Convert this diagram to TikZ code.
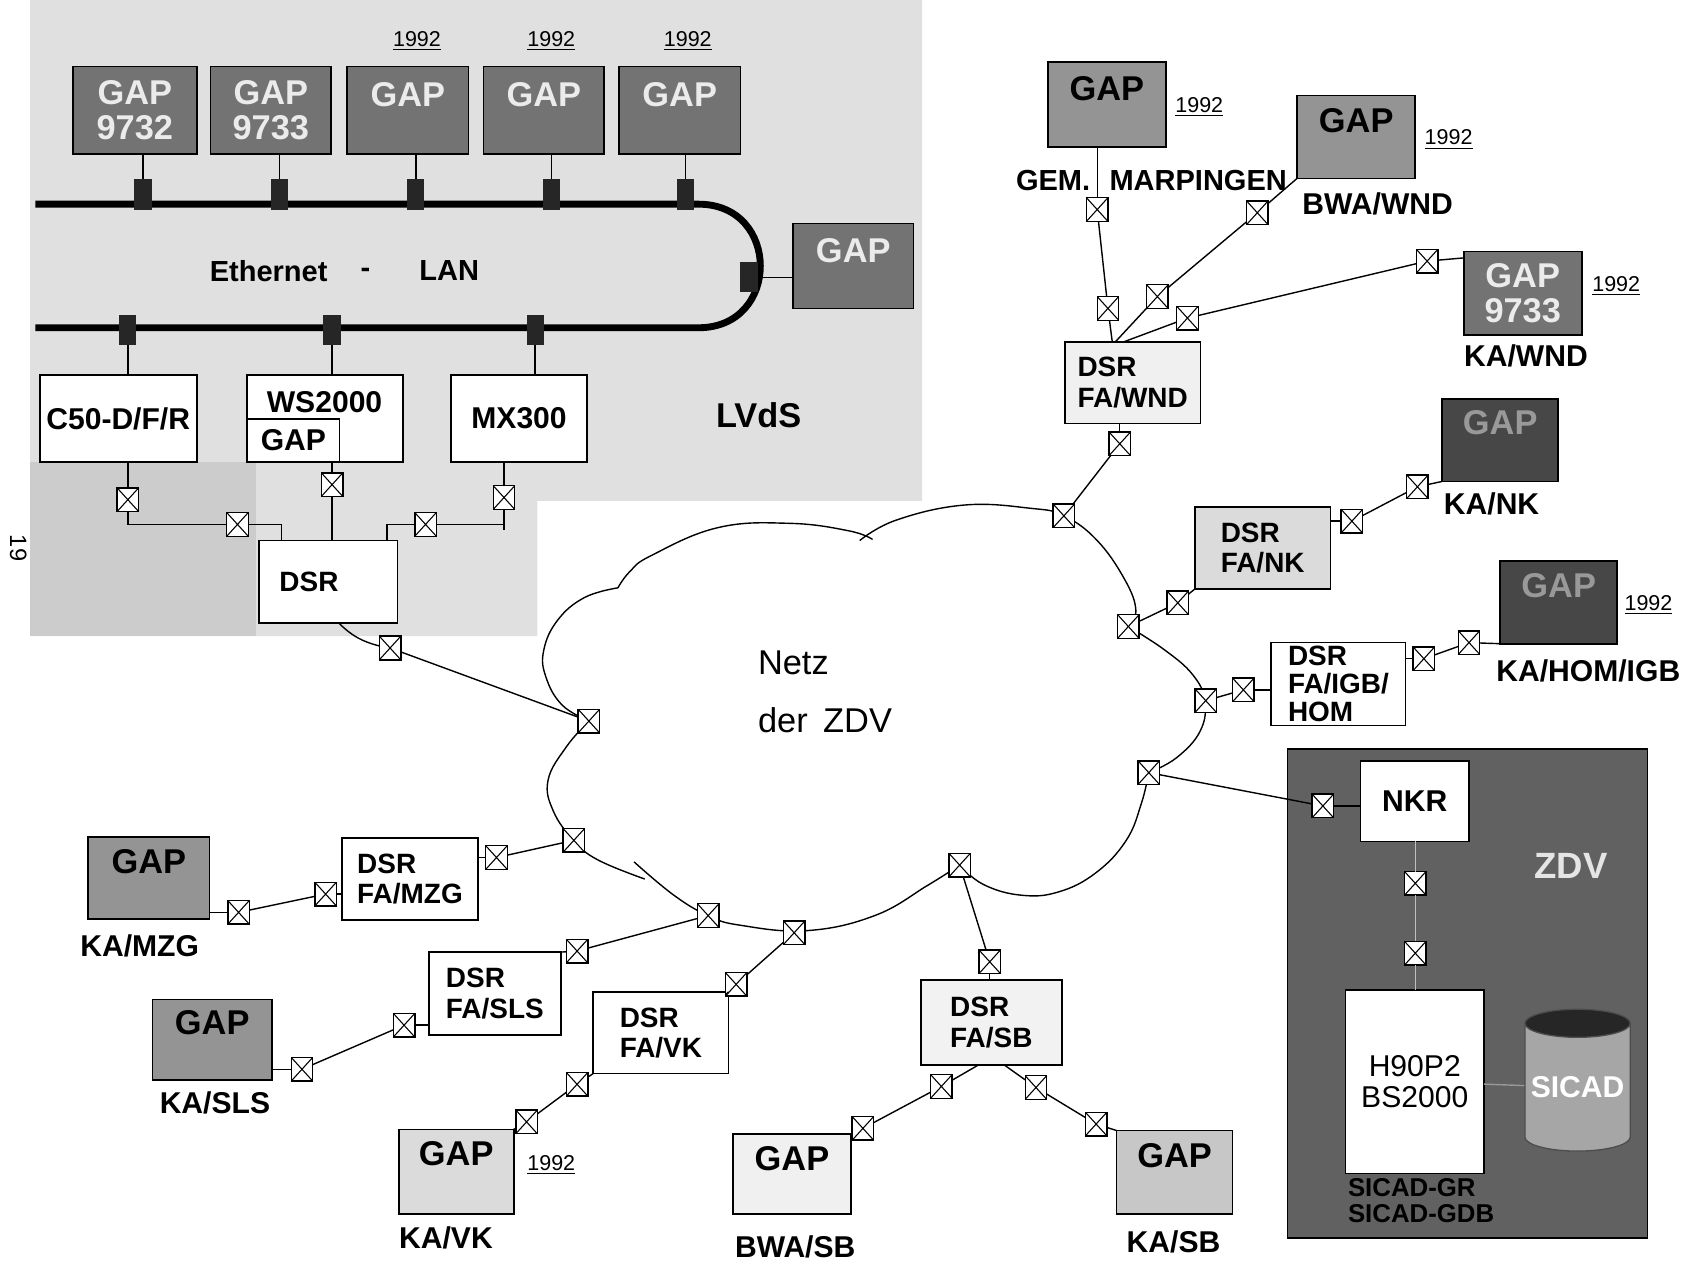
\documentclass[tikz,border=0pt]{standalone}
\usepackage{fontspec}
\setmainfont{Liberation Sans}
\usetikzlibrary{shapes.geometric,calc}
\newcommand\bx[7]{\pgfmathsetmacro\bxw{(#4-#2)/2}\pgfmathsetmacro\bxh{(#5-#3)/2}%
  \node[#6,minimum width=\bxw pt,minimum height=\bxh pt] (#1) at ({(#2+#4)/2},{(#3+#5)/2}) {#7};}
\newcommand\xb[3]{\node[xbox] (#1) at (#2,#3) {};}
\begin{document}
\begin{tikzpicture}[x=0.5pt,y=-0.5pt,
 conn/.style={line width=0.65pt},
 lightconn/.style={line width=0.65pt,draw=black!25},
 xbox/.style={draw,fill=white,line width=0.65pt,minimum width=10pt,minimum height=11pt,inner sep=0pt,outer sep=0pt,
   path picture={\draw[line width=0.5pt] (path picture bounding box.north west) -- (path picture bounding box.south east)
     (path picture bounding box.north east) -- (path picture bounding box.south west);}},
 trx/.style={fill=black!85,minimum width=8pt,minimum height=14pt,inner sep=0pt},
 box/.style={draw,line width=0.8pt,inner sep=0pt,outer sep=0pt,align=left},
 wbox/.style={box,fill=white,font=\fontsize{13}{14}\selectfont\bfseries},
 gap/.style={box,align=center,font=\fontsize{16}{16.5}\selectfont\bfseries},
 gapdark/.style={gap,fill=black!55,text=black!8},
 gapmid/.style={gap,fill=black!42,text=black},
 gapvdark/.style={gap,fill=black!72,text=black!40},
 gaplight/.style={gap,fill=black!14,text=black},
 txtup/.style={text depth=#1},
 lab/.style={font=\fontsize{14}{14}\selectfont\bfseries,inner sep=0pt},
 yr/.style={font=\fontsize{10}{10}\selectfont,inner sep=0pt},
]
\useasboundingbox (0,0) rectangle (1568,1176);
% ---------- LVdS background ----------
\fill[black!12] (28,0) -- (858,0) -- (858,466) -- (500,466) -- (500,592) -- (28,592) -- cycle;
\fill[black!20] (28,430) rectangle (238,592);
% Ethernet bus
\draw[line width=3.2pt] (33,190) -- (650,190) .. controls (726.7,190) and (726.7,305) .. (650,305) -- (33,305);
% top GAPs
\bx{g1}{68}{62}{183}{143}{gapdark}{GAP\\9732}
\bx{g2}{196}{62}{308}{143}{gapdark}{GAP\\9733}
\bx{g3}{323}{62}{436}{143}{gapdark,txtup=15pt}{GAP}
\bx{g4}{450}{62}{562}{143}{gapdark,txtup=15pt}{GAP}
\bx{g5}{576}{62}{689}{143}{gapdark,txtup=15pt}{GAP}
\node[yr] (y3) at (388,38) {\underline{1992}};
\node[yr] (y4) at (513,38) {\underline{1992}};
\node[yr] (y5) at (640,38) {\underline{1992}};
\node[trx] (t1) at (133,181) {};
\node[trx] (t2) at (260,181) {};
\node[trx] (t3) at (387,181) {};
\node[trx] (t4) at (513,181) {};
\node[trx] (t5) at (638,181) {};
\draw[conn] (t1 |- g1.south) -- (t1);
\draw[conn] (t2 |- g2.south) -- (t2);
\draw[conn] (t3 |- g3.south) -- (t3);
\draw[conn] (t4 |- g4.south) -- (t4);
\draw[conn] (t5 |- g5.south) -- (t5);
\bx{rg}{738}{208}{850}{287}{gapdark,txtup=14.5pt}{GAP}
\node[trx] (tr) at (697,258) {};
\draw[conn] (tr) -- (tr -| rg.west);
\node[lab,font=\fontsize{13.5}{14}\selectfont\bfseries] (eth) at (250,252) {Ethernet};
\node[lab,font=\fontsize{13.5}{14}\selectfont\bfseries] (dash) at (340,254) {-};
\node[lab,font=\fontsize{13.5}{14}\selectfont\bfseries] (lan) at (418,252) {LAN};
\node[lab,font=\fontsize{16}{16}\selectfont\bfseries] (lvds) at (706,386) {LVdS};
% lower hosts
\bx{c50}{37}{349}{183}{430}{wbox,font=\fontsize{14}{14}\selectfont\bfseries}{C50-D/F/R}
\bx{ws}{230}{349}{375}{430}{wbox}{}
\bx{wsg}{230}{390}{316}{430}{wbox,font=\fontsize{14}{14}\selectfont\bfseries}{GAP}
\node[lab] (wst) at (302,374) {WS2000};
\bx{mx}{420}{349}{546}{430}{wbox,font=\fontsize{14}{14}\selectfont\bfseries}{MX300}
\node[trx] (b1) at (119,307) {};
\node[trx] (b2) at (309,307) {};
\node[trx] (b3) at (498,307) {};
\draw[conn] (b1) -- (b1 |- c50.north);
\draw[conn] (b2) -- (b2 |- ws.north);
\draw[conn] (b3) -- (b3 |- mx.north);
\bx{dsr}{241}{503}{370}{580}{wbox}{DSR\hspace{18pt}}
\xb{xc}{119}{465}
\xb{xw}{309}{451}
\xb{xm}{469}{463}
\xb{xl}{221}{488}
\xb{xr}{396}{488}
\coordinate (jl) at (262,488);
\coordinate (jr) at (360,488);
\draw[conn] (xc |- c50.south) -- (xc);
\draw[conn] (xc) |- (xl);
\draw[conn] (xl) -- (jl) -- (jl |- dsr.north);
\draw[conn] (xw |- ws.south) -- (xw) -- (xw |- dsr.north);
\draw[conn] (xm |- mx.south) -- (xm);
\draw[conn] (xm) -- ++(0,30);
\draw[conn] (xm |- xr) -- (xr);
\draw[conn] (xr) -- (jr) -- (jr |- dsr.north);
\xb{xd}{363}{603}
\node[rotate=-90,font=\fontsize{11}{11}\selectfont,inner sep=1pt] (pg) at (17,510) {19};
% ---------- cloud ----------
\begin{scope}[line width=0.65pt]
\draw plot[smooth,tension=0.7] coordinates {(548,671) (523,656) (508,630) (506,605) (519,577) (544,556) (575,547)};
\draw plot[smooth,tension=0.7] coordinates {(575,547) (586,532) (606,517) (668,491) (735,487) (790,494) (812,502)};
\draw plot[smooth,tension=0.7] coordinates {(800,503) (834,484) (897,470) (959,473) (990,480) (1021,503) (1047,540) (1057,568) (1050,583)};
\draw plot[smooth,tension=0.7] coordinates {(1050,583) (1084,605) (1110,628) (1121,652) (1117,680) (1095,705) (1069,719)};
\draw plot[smooth,tension=0.7] coordinates {(1069,719) (1062,748) (1048,782) (1020,812) (985,830) (950,833) (915,823) (893,805)};
\draw plot[smooth,tension=0.7] coordinates {(893,805) (863,824) (814,852) (751,866) (689,861) (659,852) (627,833) (590,802)};
\draw plot[smooth,tension=0.7] coordinates {(548,671) (527,695) (510,726) (515,755) (534,782) (556,800) (600,818)};
\end{scope}
\node[font=\fontsize{16}{16}\selectfont,anchor=west,inner sep=0pt] (netz) at (705,617) {Netz};
\node[font=\fontsize{16}{16}\selectfont,anchor=west,inner sep=0pt] (zdvn) at (705,670) {der\hspace{0.45em}ZDV};
\xb{c1}{548}{671}
\xb{cm}{534}{782}
\xb{cs}{659}{852}
\xb{cv}{739}{868}
\xb{cb}{893}{805}
\xb{cz}{1069}{719}
\xb{ch}{1122}{652}
\xb{cn}{1050}{583}
\xb{cw}{990}{480}
\draw[conn] ([xshift=5pt]dsr.south) to[bend right=15] (xd);
\draw[conn] (xd) -- (c1);
% ---------- right top ----------
\bx{gm}{975}{58}{1085}{137}{gapmid,txtup=15.5pt}{GAP}
\node[yr] (ym) at (1116,100) {\underline{1992}};
\node[lab,font=\fontsize{13.5}{14}\selectfont\bfseries] (lgem) at (980,168) {GEM.};
\node[lab,font=\fontsize{13.5}{14}\selectfont\bfseries] (lmar) at (1115,168) {MARPINGEN};
\xb{xga}{1021}{195}
\xb{xgb}{1031}{287}
\bx{gb}{1207}{89}{1317}{166}{gapmid,txtup=15.5pt}{GAP}
\node[yr] (yb) at (1348,130) {\underline{1992}};
\node[lab] (lbwnd) at (1282,190) {BWA/WND};
\xb{xba}{1170}{198}
\xb{xbb}{1077}{276}
\bx{gk}{1362}{234}{1472}{312}{gapdark}{GAP\\9733}
\node[yr] (yk) at (1504,266) {\underline{1992}};
\node[lab] (lkwnd) at (1420,331) {KA/WND};
\xb{xka}{1328}{243}
\xb{xkb}{1105}{296}
\bx{dw}{991}{318}{1117}{394}{wbox,fill=black!6}{DSR\\FA/WND}
\xb{xwa}{1042}{413}
\draw[conn] (xga |- gm.south) -- (xga);
\draw[conn] (xga) -- (xgb);
\draw[conn] (xgb) -- ([xshift=-9.5pt]dw.north);
\draw[conn] (gb.south west) -- (xba);
\draw[conn] (xba) -- (xbb);
\draw[conn] (xbb) -- ([xshift=-8pt]dw.north);
\draw[conn] ([yshift=-3pt]gk.north west) -- (xka);
\draw[conn] (xka) -- (xkb);
\draw[conn] (xkb) -- ([xshift=-4pt]dw.north);
\draw[conn] (xwa |- dw.south) -- (xwa);
\draw[conn] (xwa) -- (cw);
% FA/NK
\bx{dn}{1112}{472}{1238}{548}{wbox,fill=black!14}{DSR\\FA/NK}
\xb{xna}{1096}{561}
\xb{xnb}{1258}{485}
\xb{xnc}{1319}{453}
\bx{gn}{1342}{371}{1450}{448}{gapvdark,txtup=16.5pt}{GAP}
\node[lab] (lnk) at (1388,469) {KA/NK};
\draw[conn] (cn) -- (xna);
\draw[conn] (xna) -- (dn.south west);
\draw[conn] (xnb -| dn.east) -- (xnb);
\draw[conn] (xnb) -- (xnc);
\draw[conn] (xnc) -- (gn.south west);
% FA/IGB/HOM
\bx{dh}{1183}{598}{1308}{675}{wbox,font=\fontsize{13}{13}\selectfont\bfseries}{DSR\\FA/IGB/\\HOM}
\xb{xha}{1157}{642}
\xb{xhb}{1325}{613}
\xb{xhc}{1367}{598}
\bx{gh}{1396}{522}{1505}{599}{gapvdark,txtup=15.5pt}{GAP}
\node[yr] (yh) at (1534,563) {\underline{1992}};
\node[lab] (lhom) at (1478,624) {KA/HOM/IGB};
\draw[conn] (ch) -- (xha);
\draw[conn] (xha) -- (xha -| dh.west);
\draw[conn] (xhb -| dh.east) -- (xhb);
\draw[conn] (xhb) -- (xhc);
\draw[conn] (xhc) -- (gh.south west);
% ---------- ZDV ----------
\bx{zdv}{1198}{697}{1533}{1152}{box,fill=black!62}{}
\bx{nkr}{1266}{708}{1367}{783}{wbox,font=\fontsize{14}{14}\selectfont\bfseries}{NKR}
\xb{xza}{1231}{750}
\xb{xzb}{1317}{822}
\xb{xzc}{1317}{887}
\bx{h90}{1252}{921}{1381}{1092}{wbox,align=center,font=\fontsize{14}{14.5}\selectfont}{H90P2\\BS2000}
\node[cylinder,shape border rotate=90,aspect=0.3,draw=black!70,line width=0.6pt,
  cylinder uses custom fill,cylinder end fill=black!85,cylinder body fill=black!35,
  minimum width=49pt,minimum height=66pt,inner sep=0pt,text=white,
  font=\fontsize{14}{14}\selectfont\bfseries] (sicad) at (1468,1012) {SICAD};
\node[lab,font=\fontsize{17}{17}\selectfont\bfseries,text=black!10] (lzdv) at (1462,806) {ZDV};
\node[anchor=north west,align=left,inner sep=0pt,font=\fontsize{12}{12}\selectfont\bfseries] (lsic) at (1254,1096) {SICAD-GR\\SICAD-GDB};
\draw[conn] (cz) -- (xza);
\draw[conn] (xza) -- (xza -| nkr.west);
\draw[lightconn] (xzb |- nkr.south) -- (xzb);
\draw[lightconn] (xzb) -- (xzc);
\draw[lightconn] (xzc) -- (xzc |- h90.north);
\draw[conn,draw=black!40] (h90) -- (sicad);
% ---------- bottom left ----------
\bx{gz}{82}{779}{195}{855}{gapmid,txtup=15pt}{GAP}
\node[lab] (lmzg) at (130,880) {KA/MZG};
\xb{xma}{222}{849}
\xb{xmb}{303}{832}
\bx{dz}{318}{780}{445}{856}{wbox}{DSR\\FA/MZG}
\xb{xmc}{462}{798}
\draw[conn] (xma -| gz.east) -- (xma);
\draw[conn] (xma) -- (xmb);
\draw[conn] (xmb) -- (xmb -| dz.west);
\draw[conn] (xmc -| dz.east) -- (xmc);
\draw[conn] (xmc) -- (cm);
\bx{ds}{399}{886}{522}{963}{wbox}{DSR\\FA/SLS}
\xb{xsa}{537}{885}
\xb{xsb}{376}{954}
\xb{xsc}{281}{995}
\bx{gs}{142}{930}{253}{1005}{gapmid,txtup=16pt}{GAP}
\node[lab] (lsls) at (200,1026) {KA/SLS};
\draw[conn] (cs) -- (xsa);
\draw[conn] (xsa) -- (ds.north east);
\draw[conn] (xsb) -- (xsb -| ds.west);
\draw[conn] (xsb) -- (xsc);
\draw[conn] (xsc) -- (xsc -| gs.east);
\bx{dv}{552}{923}{678}{999}{wbox}{DSR\\FA/VK}
\xb{xva}{685}{916}
\xb{xvb}{537}{1009}
\xb{xvc}{490}{1044}
\bx{gv}{371}{1051}{478}{1130}{gaplight,txtup=17pt}{GAP}
\node[yr] (yv) at (513,1084) {\underline{1992}};
\node[lab] (lvk) at (415,1152) {KA/VK};
\draw[conn] (cv) -- (xva);
\draw[conn] (xva) -- (dv.north east);
\draw[conn] (dv.south west) -- (xvb);
\draw[conn] (xvb) -- (xvc);
\draw[conn] (xvc) -- (gv.north east);
% FA/SB
\bx{db}{857}{912}{988}{991}{wbox,fill=black!5}{DSR\\FA/SB}
\xb{xbt}{921}{895}
\xb{xbl}{876}{1011}
\xb{xbm}{803}{1050}
\xb{xbr}{964}{1012}
\xb{xbs}{1020}{1046}
\bx{gbs}{682}{1055}{792}{1130}{gap,fill=black!6,txtup=14.5pt}{GAP}
\node[lab] (lbsb) at (740,1160) {BWA/SB};
\bx{gks}{1039}{1052}{1147}{1130}{gap,fill=black!22,txtup=16pt}{GAP}
\node[lab] (lksb) at (1092,1156) {KA/SB};
\draw[conn] (cb) -- (xbt);
\draw[conn] (xbt) -- (xbt |- db.north);
\draw[conn] (xbl) -- ([xshift=-6pt]db.south);
\draw[conn] (xbr) -- ([xshift=6pt]db.south);
\draw[conn] (xbl) -- (xbm);
\draw[conn] (xbm) -- (gbs.north east);
\draw[conn] (xbr) -- (xbs);
\draw[conn] (xbs) -- (gks.north west);
\end{tikzpicture}
\end{document}
